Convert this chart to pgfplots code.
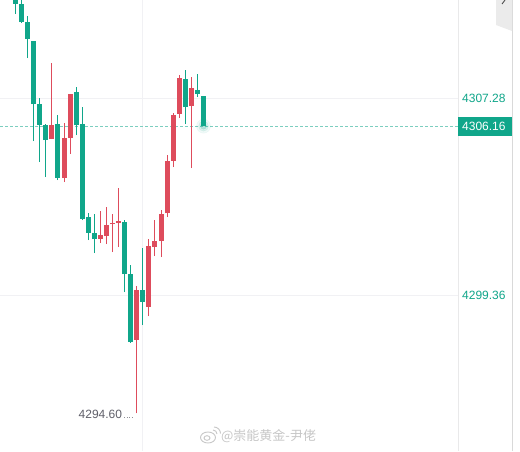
\documentclass[border=0pt]{standalone}
\usepackage{pgfplots}
\pgfplotsset{compat=1.18}
\usepackage{pgfplotstable}
\usepackage{fontspec}
\setmainfont{Liberation Sans}
\newfontfamily\cjk{Noto Sans CJK SC}
\definecolor{cg}{RGB}{16,166,138}
\definecolor{cr}{RGB}{222,76,92}
\definecolor{gridc}{RGB}{241,241,244}
\definecolor{lblgray}{RGB}{95,95,105}

% green (falling) candles: i open high low close
\pgfplotstableread{
i o h l c
1 4311.44 4311.64 4310.68 4311.08
2 4311.08 4311.44 4310.31 4310.35
3 4310.35 4310.59 4308.90 4309.67
4 4309.59 4309.59 4305.56 4307.05
5 4307.05 4307.29 4304.71 4306.20
6 4306.20 4306.24 4304.11 4305.60
8 4306.24 4306.61 4303.99 4304.07
11 4307.53 4307.73 4305.80 4306.20
12 4306.24 4306.93 4302.38 4302.42
13 4302.50 4302.66 4301.57 4301.86
14 4301.86 4302.62 4301.05 4301.61
19 4302.30 4302.38 4299.48 4300.20
20 4300.20 4300.57 4297.43 4297.47
22 4299.56 4301.25 4298.15 4299.08
29 4308.06 4308.42 4306.24 4306.93
31 4307.61 4308.26 4307.33 4307.45
32 4307.37 4307.37 4306.16 4306.16
}\greentab

% red (rising) candles: i open high low close
\pgfplotstableread{
i o h l c
7 4305.64 4308.70 4305.64 4306.20
9 4304.07 4306.28 4303.91 4305.68
10 4305.68 4307.45 4305.04 4307.45
15 4301.61 4302.74 4301.45 4301.77
16 4301.73 4302.90 4301.41 4302.18
17 4302.22 4302.62 4301.09 4302.26
18 4302.26 4303.67 4301.29 4302.34
21 4297.55 4299.72 4294.60 4299.56
23 4298.88 4301.61 4298.51 4301.33
24 4301.29 4302.38 4300.93 4301.53
25 4301.53 4302.78 4300.89 4302.62
26 4302.66 4305.00 4302.50 4304.76
27 4304.76 4306.69 4304.51 4306.61
28 4306.65 4308.22 4306.49 4308.10
30 4306.97 4308.14 4304.47 4307.70
}\redtab

\begin{document}
\begin{tikzpicture}[x=1pt,y=1pt]
\path[use as bounding box, fill=white] (0,0) rectangle (520,451);
\begin{axis}[at={(0,0)}, anchor=south west, scale only axis,
  width=458pt, height=451pt,
  xmin=-1.556, xmax=73.96, ymin=4293.08, ymax=4311.24,
  axis line style={draw=none}, major tick length=0pt,
  xtick={22}, xticklabels={}, ytick={4299.36,4307.28}, yticklabels={},
  grid=major, grid style={gridc, line width=1pt}]
\addplot[forget plot, color=cg!55, line width=0.8pt, dash pattern=on 3pt off 2pt]
  coordinates {(-1.556,4306.16) (73.96,4306.16)};
% wicks
\addplot[draw=none, no markers, forget plot, error bars/.cd, y dir=plus, y explicit,
  error mark=none, error bar style={draw=cg, line width=1pt}]
  table[x=i, y=l, y error plus expr=\thisrow{h}-\thisrow{l}] {\greentab};
\addplot[draw=none, no markers, forget plot, error bars/.cd, y dir=plus, y explicit,
  error mark=none, error bar style={draw=cr, line width=1pt}]
  table[x=i, y=l, y error plus expr=\thisrow{h}-\thisrow{l}] {\redtab};
% bodies
\addplot[draw=none, no markers, forget plot, error bars/.cd, y dir=plus, y explicit,
  error mark=none, error bar style={draw=cg, line width=5pt}]
  table[x=i, y=c, y error plus expr=\thisrow{o}-\thisrow{c}] {\greentab};
\addplot[draw=none, no markers, forget plot, error bars/.cd, y dir=plus, y explicit,
  error mark=none, error bar style={draw=cr, line width=5pt}]
  table[x=i, y=o, y error plus expr=\thisrow{c}-\thisrow{o}] {\redtab};
% glow at last price
\addplot[only marks, color=cg, mark=*, mark size=7pt, mark options={fill=cg, draw=cg, opacity=0.06}, forget plot]
  coordinates {(32,4306.16)};
\addplot[only marks, color=cg, mark=*, mark size=5pt, mark options={fill=cg, draw=cg, opacity=0.10}, forget plot]
  coordinates {(32,4306.16)};
\addplot[only marks, color=cg, mark=*, mark size=3pt, mark options={fill=cg, draw=cg, opacity=0.18}, forget plot]
  coordinates {(32,4306.16)};
\coordinate (g1) at (axis cs:73.96,4307.28);
\coordinate (g2) at (axis cs:73.96,4299.36);
\coordinate (cur) at (axis cs:73.96,4306.16);
\coordinate (low) at (axis cs:21,4294.60);
\end{axis}
% right price scale
\draw[gridc!80!gray!60, line width=0.8pt] (458,0) -- (458,451);
\draw[black!15, line width=1.2pt] (512.6,0) -- (512.6,451);
\fill[black!8] (496,451) -- (512,451) -- (512,420) -- (496,426) -- cycle;
\draw[black!70, line width=0.9pt] (502,447) -- (505,451);
\node[anchor=west, text=cg, inner sep=0pt, font=\fontsize{12}{14}\selectfont] at ([xshift=4pt]g1) {4307.28};
\node[anchor=west, text=cg, inner sep=0pt, font=\fontsize{12}{14}\selectfont] at ([xshift=4pt]g2) {4299.36};
\fill[cg] ([yshift=-9.5pt]cur) rectangle ([xshift=54pt, yshift=9.5pt]cur);
\node[anchor=west, text=white, inner sep=0pt, font=\fontsize{12}{14}\selectfont] at ([xshift=4pt]cur) {4306.16};
% low label
\node[anchor=east, text=lblgray, inner sep=0pt, font=\fontsize{12}{14}\selectfont] at ([xshift=-14.5pt, yshift=-1pt]low) {4294.60};
\draw[lblgray!70, line width=0.7pt, dash pattern=on 1pt off 1.5pt] ([xshift=-12.5pt, yshift=-4pt]low) -- ([xshift=-3pt, yshift=-4pt]low);
% watermark
\begin{scope}[black!22, line width=0.9pt]
\draw (208,13.5) ellipse (7.5pt and 5.5pt);
\draw (207,13) ellipse (3pt and 2.3pt);
\draw (213,21) arc (90:0:4pt);
\draw (214,24) arc (90:0:6.5pt);
\end{scope}
\node[anchor=west, text=black!22, inner sep=0pt, font=\cjk\fontsize{13}{15}\selectfont] at (221,15) {@崇能黄金-尹佬};
\end{tikzpicture}
\end{document}
